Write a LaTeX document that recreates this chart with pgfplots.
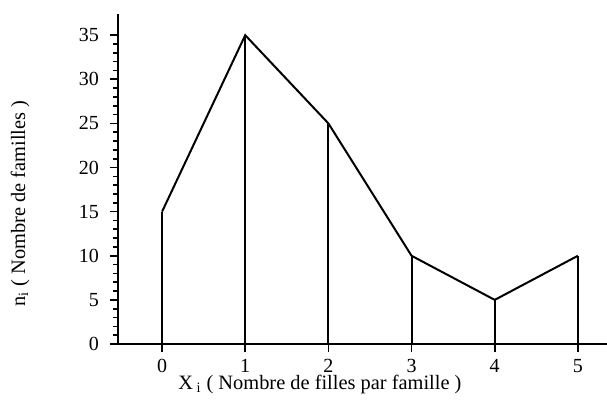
\documentclass[border=0pt]{standalone}
\usepackage{fontspec}
\setmainfont{Liberation Serif}
\usepackage{pgfplots}
\pgfplotsset{compat=1.18}

\begin{document}
\fontsize{10.2}{12}\selectfont
\begin{tikzpicture}
\begin{axis}[
    at={(0,0)}, anchor=south west,
    scale only axis,
    width=244.5pt, height=165pt,
    xmin=-0.53, xmax=5.35,
    ymin=0, ymax=37.4,
    axis lines=left,
    axis line style={-, line width=0.9pt},
    tick style={line width=0.8pt, black},
    tick align=outside,
    major tick length=4pt,
    minor tick length=2.5pt,
    xtick={0,1,2,3,4,5},
    ytick={0,5,10,15,20,25,30,35},
    minor y tick num=4,
    /pgf/number format/assume math mode=true,
    tick label style={font=\fontsize{10}{11}\selectfont},
    yticklabel style={xshift=-2pt},
    xlabel={X\,\textsubscript{i} ( Nombre de filles par famille )},
    ylabel={n\textsubscript{i} ( Nombre de familles )},
    xlabel style={at={(axis description cs:0.413,-0.124)}, anchor=center},
    ylabel style={at={(axis description cs:-0.2,0.425)}, anchor=center, rotate=0},
    clip=false,
]
% vertical lines from the axis to each point
\addplot[ycomb, black, line width=1pt] coordinates {
    (0,15) (1,35) (2,25) (3,10) (4,5) (5,10)
};
% polygon through the points
\addplot[black, line width=1pt, mark=none] coordinates {
    (0,15) (1,35) (2,25) (3,10) (4,5) (5,10)
};
\end{axis}
\pgfresetboundingbox
\path[use as bounding box] (-59pt,-29.5pt) rectangle (244.5pt,172pt);
\end{tikzpicture}
\end{document}
